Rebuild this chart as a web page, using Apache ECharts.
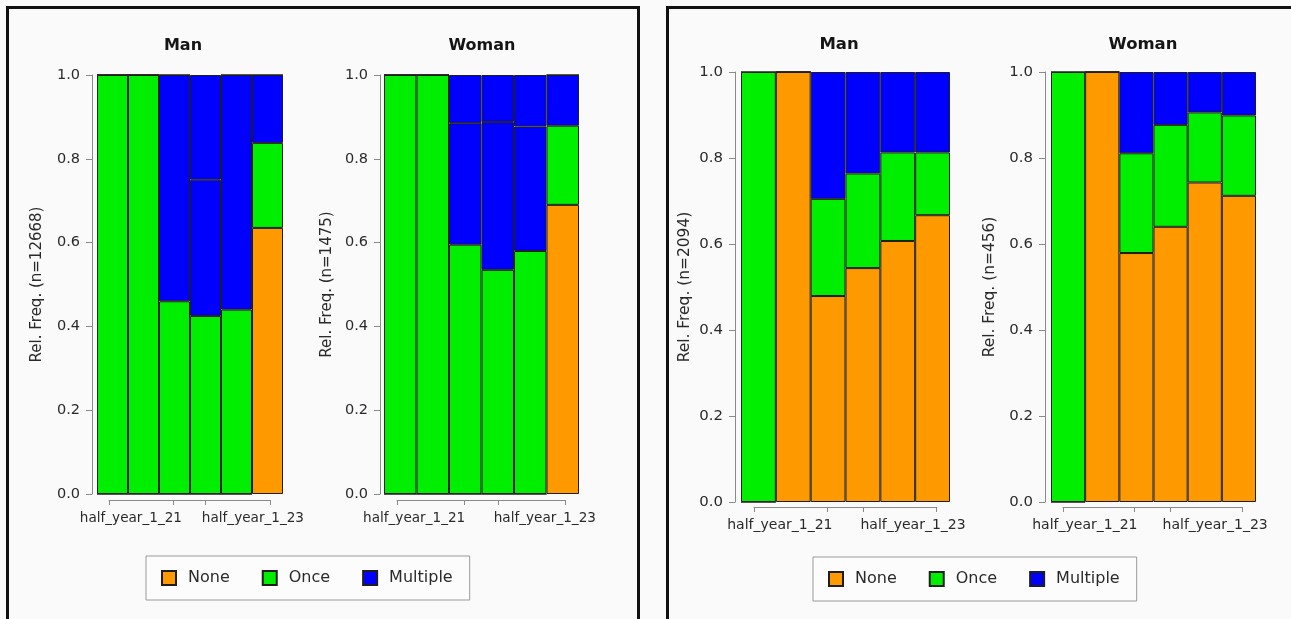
<!DOCTYPE html>
<html>
<head>
<meta charset="utf-8">
<script src="https://cdn.jsdelivr.net/npm/echarts@6/dist/echarts.min.js"></script>
<style>
  html, body { margin: 0; padding: 0; background: #fafafa; }
  #chart { width: 1291px; height: 619px; }
</style>
</head>
<body>
<div id="chart"></div>
<script>
// Half-year periods shown along each panel's horizontal axis
const periods = ['half_year_1_21', 'half_year_2_21', 'half_year_1_22', 'half_year_2_22', 'half_year_1_23', 'half_year_2_23'];
const tickLabels = ['half_year_1_21', 'half_year_1_23'];
const levels = ['None', 'Once', 'Multiple'];
const levelColors = ['#ff9900', '#00ee00', '#0000ff'];

// Left figure: relative frequencies per period
const leftManN = 12668;
const leftManNone = [0, 0, 0, 0, 0, 0.635];
const leftManOnce = [1, 1, 0.46, 0.425, 0.44, 0.203];
const leftManMultiple = [0, 0, 0.54, 0.325, 0.56, 0.162];
const leftManMultipleUpper = [0, 0, 0, 0.25, 0, 0];

const leftWomanN = 1475;
const leftWomanNone = [0, 0, 0, 0, 0, 0.69];
const leftWomanOnce = [1, 1, 0.595, 0.535, 0.58, 0.189];
const leftWomanMultiple = [0, 0, 0.29, 0.353, 0.297, 0.121];
const leftWomanMultipleUpper = [0, 0, 0.115, 0.112, 0.123, 0];

// Right figure: relative frequencies per period
const rightManN = 2094;
const rightManNone = [0, 1, 0.479, 0.544, 0.607, 0.667];
const rightManOnce = [1, 0, 0.226, 0.22, 0.206, 0.146];
const rightManMultiple = [0, 0, 0.295, 0.236, 0.187, 0.187];

const rightWomanN = 456;
const rightWomanNone = [0, 1, 0.579, 0.64, 0.743, 0.712];
const rightWomanOnce = [1, 0, 0.232, 0.237, 0.163, 0.187];
const rightWomanMultiple = [0, 0, 0.189, 0.123, 0.094, 0.101];

const panels = [
  { title: 'Man', n: leftManN, stacks: [leftManNone, leftManOnce, leftManMultiple, leftManMultipleUpper] },
  { title: 'Woman', n: leftWomanN, stacks: [leftWomanNone, leftWomanOnce, leftWomanMultiple, leftWomanMultipleUpper] },
  { title: 'Man', n: rightManN, stacks: [rightManNone, rightManOnce, rightManMultiple] },
  { title: 'Woman', n: rightWomanN, stacks: [rightWomanNone, rightWomanOnce, rightWomanMultiple] }
];

// Layout of each panel (pixels)
const layout = [
  { grid: { left: 97, top: 75, width: 186, height: 419 }, offset: 5, nameGap: 47, titleX: 183, titleY: 46,
    bracket: { left: 109, width: 161, y: 500 }, labelAt: [0.68, 4.47], scale: 1 },
  { grid: { left: 384, top: 75, width: 195, height: 419 }, offset: 4, nameGap: 45, titleX: 482, titleY: 46,
    bracket: { left: 397, width: 168, y: 500 }, labelAt: [0.51, 4.40], scale: 1 },
  { grid: { left: 741, top: 72, width: 209, height: 430 }, offset: 6, nameGap: 43, titleX: 839, titleY: 45,
    bracket: { left: 754, width: 182, y: 507 }, labelAt: [0.71, 4.37], scale: 1.03 },
  { grid: { left: 1051, top: 72, width: 205, height: 430 }, offset: 6, nameGap: 48, titleX: 1143, titleY: 45,
    bracket: { left: 1063, width: 179, y: 507 }, labelAt: [0.61, 4.25], scale: 1.03 }
];

const FONT = 'DejaVu Sans';
const axisGray = '#8a8a8a';
const textColor = '#2a2a2a';

const grids = [], xAxes = [], yAxes = [], series = [], graphics = [];

panels.forEach((p, i) => {
  const L = layout[i];
  const s = L.scale;
  grids.push(Object.assign({ containLabel: false }, L.grid));
  xAxes.push({ type: 'category', gridIndex: i, data: periods, show: false });
  yAxes.push({
    type: 'value', gridIndex: i, min: 0, max: 1, interval: 0.2, offset: L.offset,
    name: 'Rel. Freq. (n=' + p.n + ')', nameLocation: 'middle', nameGap: L.nameGap,
    nameMoveOverlap: false,
    nameTextStyle: { fontFamily: FONT, fontSize: 15 * s, color: textColor },
    axisLine: { show: true, lineStyle: { color: axisGray, width: 1 } },
    axisTick: { show: true, length: 6, lineStyle: { color: axisGray } },
    axisLabel: { formatter: v => v.toFixed(1), fontFamily: FONT, fontSize: 14.5 * s, color: textColor, margin: 12 },
    splitLine: { show: false }
  });
  p.stacks.forEach((vals, k) => {
    const lvl = Math.min(k, 2);
    series.push({
      type: 'bar', name: levels[lvl], xAxisIndex: i, yAxisIndex: i, stack: 'panel' + i,
      barWidth: '100%', barCategoryGap: '0%',
      itemStyle: { color: levelColors[lvl], borderColor: '#1e1e1e', borderWidth: 1 },
      emphasis: { disabled: true },
      data: vals
    });
  });
  graphics.push({
    type: 'text', x: L.titleX, y: L.titleY,
    style: { text: p.title, font: 'bold ' + (16 * s) + 'px ' + FONT, fill: '#151515', align: 'center', verticalAlign: 'middle' }
  });
});

// Bracket-style period axes beneath the bars
layout.forEach((L, i) => {
  const gi = panels.length + i;
  grids.push({ left: L.bracket.left, width: L.bracket.width, top: L.bracket.y - 20, height: 20 });
  xAxes.push({
    type: 'value', gridIndex: gi, min: 0, max: 5, position: 'bottom',
    axisLine: { show: true, lineStyle: { color: axisGray, width: 1 } },
    axisTick: { show: true, inside: false, length: 5, customValues: [0, 2, 3, 5], lineStyle: { color: axisGray } },
    axisLabel: {
      customValues: L.labelAt,
      formatter: v => (v < 2.5 ? tickLabels[0] : tickLabels[1]),
      fontFamily: FONT, fontSize: 13.6 * L.scale, color: textColor, margin: 11
    },
    splitLine: { show: false }
  });
  yAxes.push({ type: 'value', gridIndex: gi, show: false });
});

// Figure frames
graphics.push(
  { type: 'rect', shape: { x: 7.5, y: 7.5, width: 631, height: 700 }, style: { fill: 'none', stroke: '#111', lineWidth: 3 }, silent: true },
  { type: 'rect', shape: { x: 667.5, y: 7.5, width: 640, height: 700 }, style: { fill: 'none', stroke: '#111', lineWidth: 3 }, silent: true }
);

const legendBase = {
  data: levels, orient: 'horizontal', icon: 'rect', itemWidth: 14, itemHeight: 14, itemGap: 32,
  padding: [14, 17, 14, 15], borderColor: '#9a9a9a', borderWidth: 1, backgroundColor: '#fcfcfc',
  selectedMode: false,
  textStyle: { fontFamily: FONT, fontSize: 16, color: textColor, padding: [0, 0, 0, 7] }
};

const chart = echarts.init(document.getElementById('chart'), null, { renderer: 'canvas' });
chart.setOption({
  backgroundColor: '#fafafa',
  animation: false,
  textStyle: { fontFamily: FONT },
  grid: grids,
  xAxis: xAxes,
  yAxis: yAxes,
  series: series,
  legend: [
    Object.assign({}, legendBase, { left: 146, top: 556 }),
    Object.assign({}, legendBase, { left: 813, top: 557 })
  ],
  graphic: graphics
});
</script>
</body>
</html>
